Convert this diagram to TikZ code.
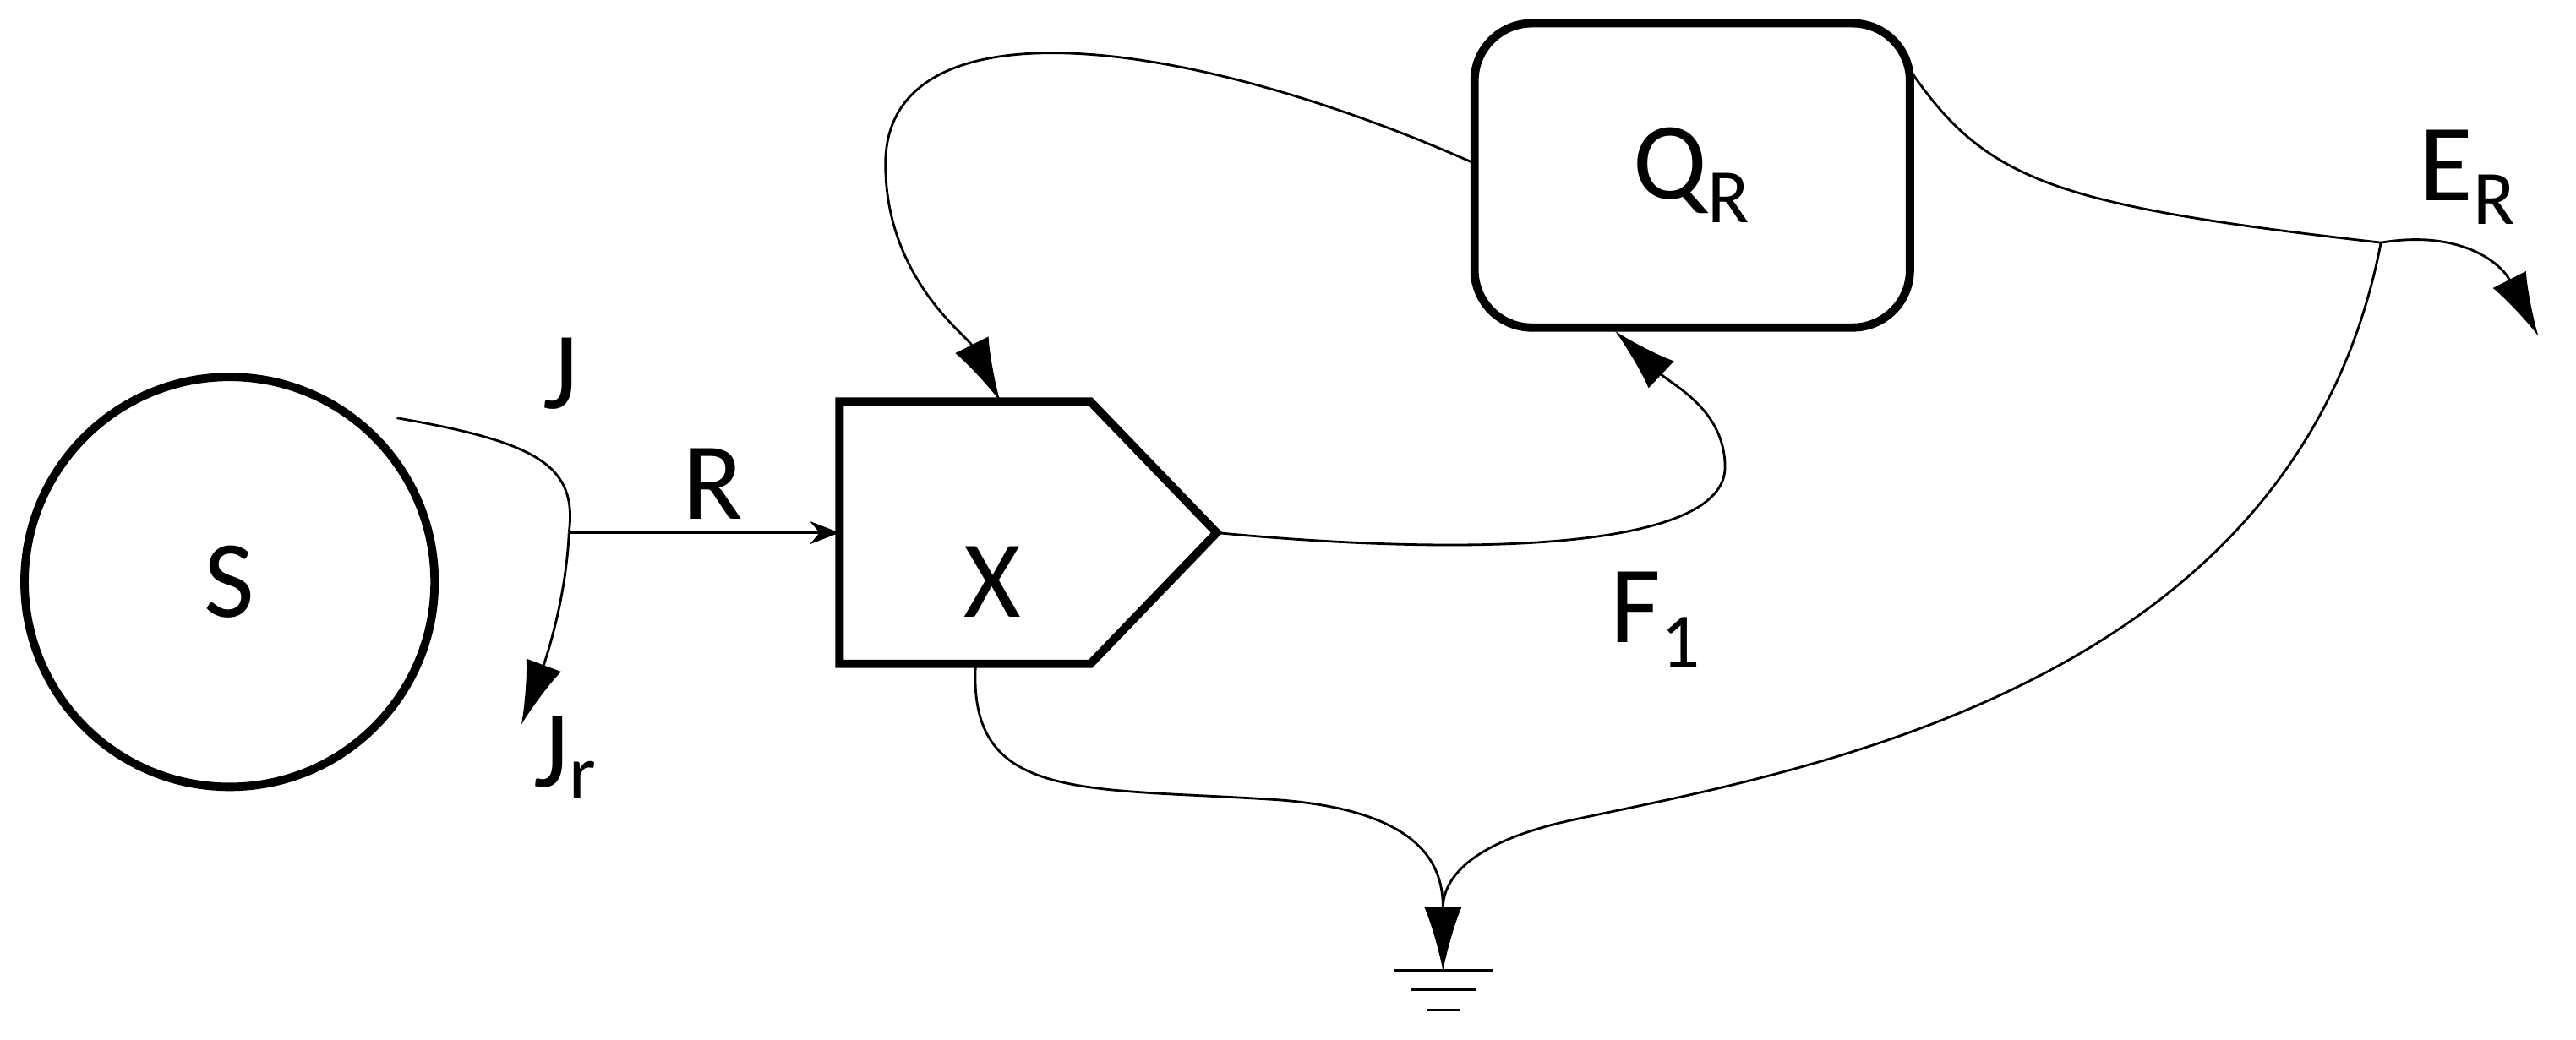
\documentclass[tikz,border=0pt]{standalone}
\usepackage{fontspec}
\setmainfont{Carlito}
\usetikzlibrary{arrows.meta,shapes.geometric}
\begin{document}
\begin{tikzpicture}[x=0.0194cm,y=-0.0194cm,
  lbl/.style={font=\fontsize{37}{42}\selectfont},
  wire/.style={line width=0.8pt},
  big/.style={wire,-{Latex[length=0.75cm,width=0.44cm]}},
  box/.style={line width=2.8pt}]
\useasboundingbox (0,0) rectangle (1571,634);
\node[box,circle,draw,minimum size=4.85cm,lbl] (S) at (140,355) {S};
\draw[box] (512,245) -- (665,245) -- (742,325) -- (665,405) -- (512,405) -- cycle;
\node[lbl] (X) at (605,355) {X};
\coordinate (Xtip) at (742,325);
\coordinate (Xtop) at (610,245);
\coordinate (Xbot) at (595,405);
\coordinate (Xleft) at (512,325);
\node[box,draw,rounded corners=0.68cm,minimum width=5.15cm,minimum height=3.6cm,lbl] (Q) at (1032,107) {Q\textsubscript{R}};
\coordinate (Qbot) at (985,202);
\coordinate (Ql) at (900,100);
\coordinate (Qtr) at (1163,40);
\coordinate (Sj) at (242,255);
\coordinate (jr) at (347,325);
\coordinate (Jrend) at (318,442);
\coordinate (er) at (1452,148);
\coordinate (Eend) at (1548,205);
\coordinate (G) at (880,592);
\draw[wire] (Sj) .. controls (330,270) and (352,285) .. (jr);
\draw[big] (jr) .. controls (345,370) and (330,410) .. (Jrend);
\draw[wire,-{Stealth[length=0.35cm,width=0.27cm]}] (jr) -- (Xleft);
\draw[big] (Xtip) .. controls (900,340) and (1052,335) .. (1052,285) .. controls (1052,250) and (1020,235) .. (Qbot);
\draw[big] (Ql) .. controls (720,20) and (540,0) .. (540,100) .. controls (540,170) and (590,205) .. (Xtop);
\draw[wire] (Qtr) .. controls (1210,110) and (1250,125) .. (er);
\draw[big] (er) .. controls (1500,140) and (1525,160) .. (Eend);
\draw[big] (er) .. controls (1400,420) and (1100,470) .. (960,500) .. controls (890,515) and (880,540) .. (G);
\draw[big] (Xbot) .. controls (590,490) and (660,480) .. (780,488) .. controls (870,495) and (880,530) .. (G);
\draw[wire] (850,592) -- (910,592) (860,604) -- (900,604) (870,616) -- (890,616);
\node[lbl] (J) at (342,228) {J};
\node[lbl] (R) at (435,295) {R};
\node[lbl] (Jr) at (345,462) {J\textsubscript{r}};
\node[lbl] (F1) at (1010,378) {F\textsubscript{1}};
\node[lbl] (ER) at (1505,108) {E\textsubscript{R}};
\end{tikzpicture}
\end{document}
